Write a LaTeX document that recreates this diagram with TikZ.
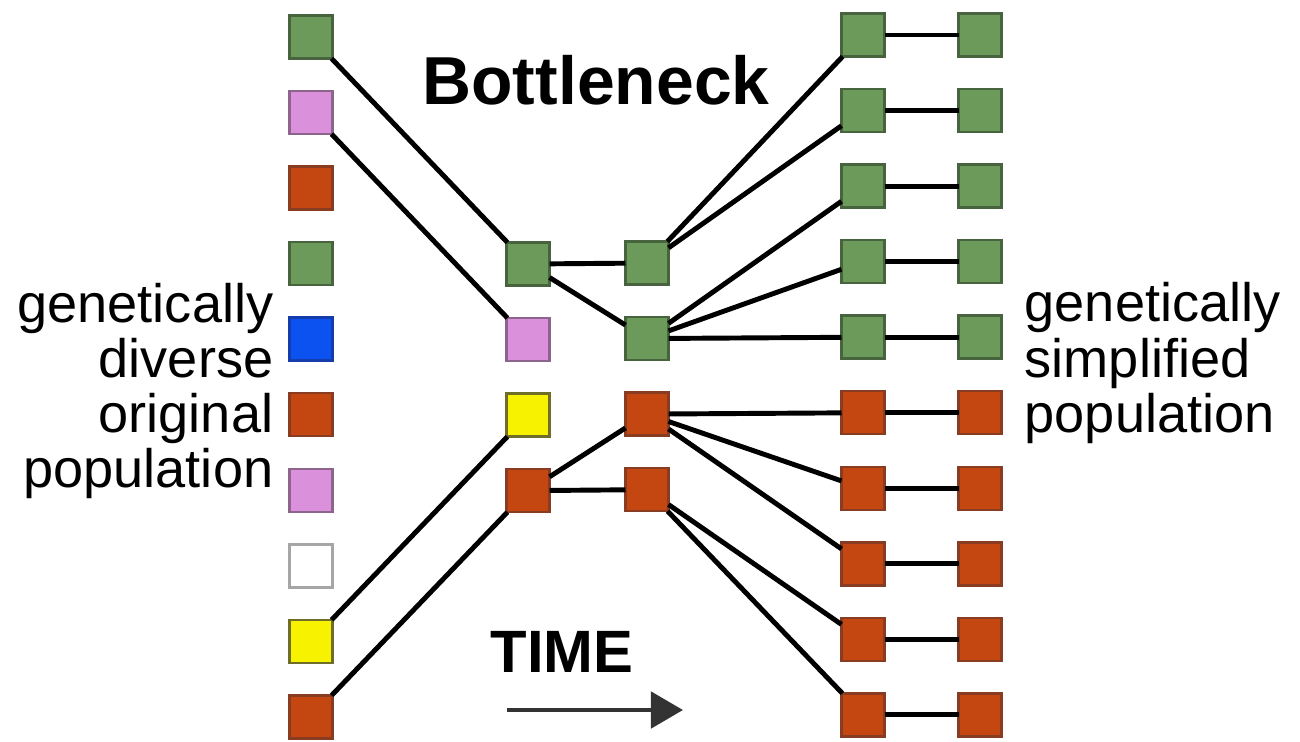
\documentclass[tikz,border=0pt]{standalone}
\usepackage{fontspec}
\setmainfont{Liberation Sans}
\usepackage{xcolor}
\usetikzlibrary{arrows.meta,positioning}

\definecolor{allelegreen}{RGB}{108,154,90}
\definecolor{allelegreenD}{RGB}{72,100,62}
\definecolor{allelerust}{RGB}{196,70,16}
\definecolor{allelerustD}{RGB}{136,60,34}
\definecolor{allelepink}{RGB}{218,144,218}
\definecolor{allelepinkD}{RGB}{140,100,140}
\definecolor{alleleblue}{RGB}{12,82,240}
\definecolor{allelebluD}{RGB}{20,60,170}
\definecolor{alleleyellow}{RGB}{246,242,0}
\definecolor{alleleyellowD}{RGB}{110,110,40}

\begin{document}
\begin{tikzpicture}[
    x=0.01cm, y=-0.01cm,
    node distance=0.325cm,
    allele/.style={rectangle, line width=0.7pt, minimum size=0.43cm, inner sep=0pt, outer sep=0pt},
    agreen/.style={allele, fill=allelegreen, draw=allelegreenD},
    arust/.style={allele, fill=allelerust, draw=allelerustD},
    apink/.style={allele, fill=allelepink, draw=allelepinkD},
    ablue/.style={allele, fill=alleleblue, draw=allelebluD},
    ayellow/.style={allele, fill=alleleyellow, draw=alleleyellowD},
    awhite/.style={allele, fill=white, draw=gray!70},
    link/.style={line width=1.4pt, black},
    label/.style={inner sep=0pt, font=\fontsize{15.4pt}{15.7pt}\selectfont}
]
\useasboundingbox (0,0) rectangle (1300,741);

% original population
\node[agreen] (orig1) at (311,37) {};
\node[apink, below=of orig1] (orig2) {};
\node[arust, below=of orig2] (orig3) {};
\node[agreen, below=of orig3] (orig4) {};
\node[ablue, below=of orig4] (orig5) {};
\node[arust, below=of orig5] (orig6) {};
\node[apink, below=of orig6] (orig7) {};
\node[awhite, below=of orig7] (orig8) {};
\node[ayellow, below=of orig8] (orig9) {};
\node[arust, below=of orig9] (orig10) {};

% bottleneck survivors
\node[agreen] (neck1) at (528,264) {};
\node[apink, below=of neck1] (neck2) {};
\node[ayellow, below=of neck2] (neck3) {};
\node[arust, below=of neck3] (neck4) {};

\node[agreen] (pass1) at (647,263) {};
\node[agreen, below=of pass1] (pass2) {};
\node[arust, below=of pass2] (pass3) {};
\node[arust, below=of pass3] (pass4) {};

% simplified population
\node[agreen] (new1) at (863,35) {};
\node[agreen, below=of new1] (new2) {};
\node[agreen, below=of new2] (new3) {};
\node[agreen, below=of new3] (new4) {};
\node[agreen, below=of new4] (new5) {};
\node[arust, below=of new5] (new6) {};
\node[arust, below=of new6] (new7) {};
\node[arust, below=of new7] (new8) {};
\node[arust, below=of new8] (new9) {};
\node[arust, below=of new9] (new10) {};

\node[agreen, right=0.74cm of new1] (desc1) {};
\node[agreen, right=0.74cm of new2] (desc2) {};
\node[agreen, right=0.74cm of new3] (desc3) {};
\node[agreen, right=0.74cm of new4] (desc4) {};
\node[agreen, right=0.74cm of new5] (desc5) {};
\node[arust, right=0.74cm of new6] (desc6) {};
\node[arust, right=0.74cm of new7] (desc7) {};
\node[arust, right=0.74cm of new8] (desc8) {};
\node[arust, right=0.74cm of new9] (desc9) {};
\node[arust, right=0.74cm of new10] (desc10) {};

% texts
\node[inner sep=0pt, anchor=base, font=\fontsize{19.3pt}{20pt}\selectfont\bfseries] (title) at (596,104) {Bottleneck};
\node[label, align=right, anchor=east] (before) at (274,391) {genetically\\diverse\\original\\population};
\node[label, align=left, anchor=west] (after) at (1024,363) {genetically\\simplified\\population};
\node[inner sep=0pt, anchor=base, font=\fontsize{17pt}{18pt}\selectfont\bfseries] (time) at (562,672) {TIME};
\coordinate (tstart) at (507,710);
\coordinate (tend) at (683,710);

% lineage links
\draw[link] (orig1) -- (neck1);
\draw[link] (orig2) -- (neck2);
\draw[link] (orig9) -- (neck3);
\draw[link] (orig10) -- (neck4);
\draw[link] (neck1) -- (pass1);
\draw[link] (neck1) -- (pass2);
\draw[link] (neck4) -- (pass3);
\draw[link] (neck4) -- (pass4);
\draw[link] (pass1) -- (new1);
\draw[link] (pass1) -- (new2);
\draw[link] (pass2) -- (new3);
\draw[link] (pass2) -- (new4);
\draw[link] (pass2) -- (new5);
\draw[link] (pass3) -- (new6);
\draw[link] (pass3) -- (new7);
\draw[link] (pass3) -- (new8);
\draw[link] (pass4) -- (new9);
\draw[link] (pass4) -- (new10);
\draw[link] (new1) -- (desc1);
\draw[link] (new2) -- (desc2);
\draw[link] (new3) -- (desc3);
\draw[link] (new4) -- (desc4);
\draw[link] (new5) -- (desc5);
\draw[link] (new6) -- (desc6);
\draw[link] (new7) -- (desc7);
\draw[link] (new8) -- (desc8);
\draw[link] (new9) -- (desc9);
\draw[link] (new10) -- (desc10);
\draw[line width=1.4pt, black!80, -{Triangle[length=0.32cm, width=0.36cm]}] (tstart) -- (tend);
\end{tikzpicture}
\end{document}
